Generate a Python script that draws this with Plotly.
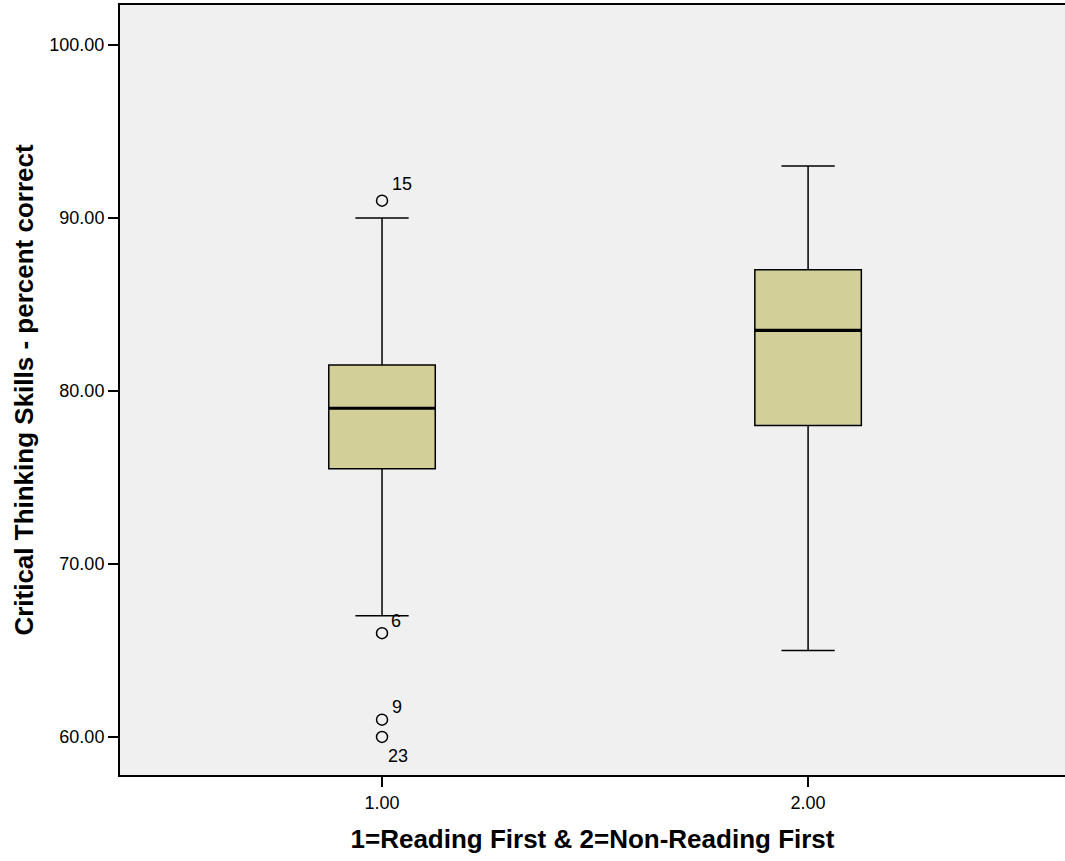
import plotly.graph_objects as go

groups = [1, 2]
tick_labels = ["1.00", "2.00"]
q1 = [75.5, 78.0]
median = [79.0, 83.5]
q3 = [81.5, 87.0]
lower_fence = [67.0, 65.0]
upper_fence = [90.0, 93.0]

outlier_x = [1, 1, 1, 1]
outlier_y = [91.0, 66.0, 61.0, 60.0]
outlier_ids = ["15", "6", "9", "23"]
label_shift = [(20, 17), (14, 12), (15, 13), (16, -19)]

box_fill = "#D3CF99"
bg = "#F0F0F0"
box_w = 0.25

fig = go.Figure()
fig.add_trace(go.Box(
    x=groups, q1=q1, median=median, q3=q3,
    lowerfence=lower_fence, upperfence=upper_fence,
    fillcolor=box_fill, line=dict(color="black", width=1.5),
    width=box_w, whiskerwidth=0.5, boxpoints=False, showlegend=False,
    hoverinfo="skip",
))
# thicker median lines
for g, m in zip(groups, median):
    fig.add_trace(go.Scatter(
        x=[g - box_w / 2, g + box_w / 2], y=[m, m], mode="lines",
        line=dict(color="black", width=3.2), showlegend=False, hoverinfo="skip",
    ))
fig.add_trace(go.Scatter(
    x=outlier_x, y=outlier_y, mode="markers",
    marker=dict(symbol="circle-open", size=11, color="black", line=dict(width=1.5)),
    showlegend=False, hoverinfo="skip",
))
for xv, yv, t, (dx, dy) in zip(outlier_x, outlier_y, outlier_ids, label_shift):
    fig.add_annotation(x=xv, y=yv, text=t, showarrow=False, xshift=dx, yshift=dy,
                       font=dict(size=18, color="black", family="Liberation Sans, Arial"))

fig.update_layout(
    width=1065, height=861,
    margin=dict(l=120, r=0, t=5, b=86),
    paper_bgcolor="white", plot_bgcolor=bg,
    font=dict(family="Liberation Sans, Arial", size=18, color="black"),
    xaxis=dict(
        range=[0.385, 2.603], tickvals=groups, ticktext=tick_labels,
        showgrid=False, zeroline=False, showline=True, linecolor="black", linewidth=2,
        mirror=True, ticks="outside", ticklen=10, tickwidth=2, tickcolor="black",
        title=dict(text="<b>1=Reading First &amp; 2=Non-Reading First</b>", font=dict(size=26), standoff=18),
    ),
    yaxis=dict(
        range=[57.8, 102.31], tickvals=[60, 70, 80, 90, 100],
        ticktext=["60.00", "70.00", "80.00", "90.00", "100.00"],
        showgrid=False, zeroline=False, showline=True, linecolor="black", linewidth=2,
        ticks="outside", ticklen=10, tickwidth=2, tickcolor="black",
        title=dict(text="<b>Critical Thinking Skills - percent correct</b>", font=dict(size=26), standoff=8),
    ),
)
fig.write_html("out.html")
